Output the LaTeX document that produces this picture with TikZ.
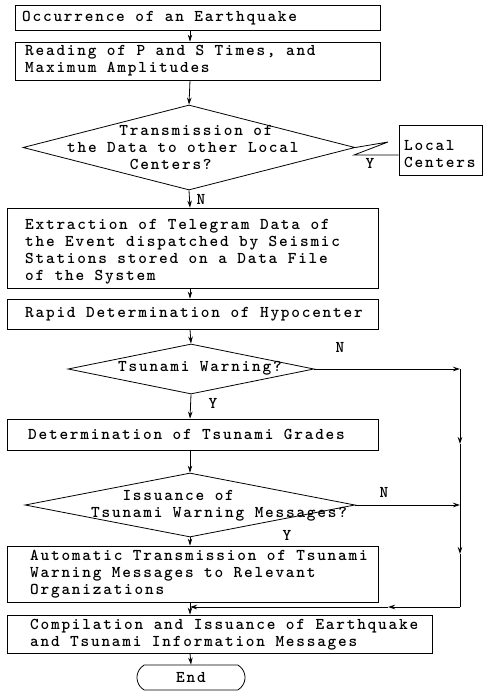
\documentclass[tikz,border=0pt]{standalone}
\usepackage{fontspec}
\usetikzlibrary{shapes.geometric,shapes.misc,arrows.meta}
\newfontfamily\twfam{lmmonolt10-bold.otf}[LetterSpace=10.8]
\newlength\chw \setlength\chw{10.45pt}
\newcommand\tw{\twfam\fontsize{16.5}{17}\selectfont}
\begin{document}
\begin{tikzpicture}[x=1pt,y=-1pt,
  box/.style={draw,line width=0.8pt,rectangle,inner sep=0pt,anchor=center},
  dia/.style={draw,line width=0.8pt,diamond,inner sep=0pt},
  lbl/.style={font=\tw,inner sep=0pt,anchor=west,align=left},
  yn/.style={font=\tw,inner sep=0pt},
  arr/.style={line width=0.8pt,-{Stealth[length=7pt,width=4.5pt]}},
  ln/.style={line width=0.8pt}]
\useasboundingbox (0,0) rectangle (484,692);
\fill[white] (0,0) rectangle (484,692);
\coordinate (ax) at (190,0);
\coordinate (rx) at (460,0);
% boxes
\node[box,minimum width=365,minimum height=25] (b1) at (197.5,17.5) {};
\node[box,minimum width=365,minimum height=38] (b2) at (197.5,61) {};
\node[dia,minimum width=332,minimum height=85] (d1) at (189,147.5) {};
\node[box,minimum width=83,minimum height=50] (lc) at (440.5,150) {};
\node[box,minimum width=371,minimum height=80] (b3) at (192.5,248) {};
\node[box,minimum width=371,minimum height=30] (b4) at (192.5,314) {};
\node[dia,minimum width=246,minimum height=50] (d2) at (191,369) {};
\node[box,minimum width=371,minimum height=31] (b5) at (192.5,434.5) {};
\node[dia,minimum width=330,minimum height=64] (d3) at (190,505) {};
\node[box,minimum width=371,minimum height=56] (b6) at (192.5,574) {};
\node[box,minimum width=425,minimum height=38] (b7) at (219.5,634) {};
\node[draw,line width=0.8pt,rounded rectangle,rounded rectangle arc length=120,
  minimum width=108,minimum height=25,font=\tw,inner sep=0pt] (end) at (191,677.5) {End};
% texts
\node[lbl] (t1) at (22,18) {Occurrence of an Earthquake};
\node[lbl] (t2) at (25,61) {Reading of P and S Times, and\\Maximum Amplitudes};
\node[lbl] (td1) at (67,148) {\hspace*{5\chw}Transmission of\\the Data to other Local\\\hspace*{6\chw}Centers?};
\node[lbl] (tlc) at (404,154) {Local\\Centers};
\node[lbl] (t3) at (25,251.5) {Extraction of Telegram Data of\\the Event dispatched by Seismic\\Stations stored on a Data File\\of the System};
\node[lbl] (t4) at (25,314) {Rapid Determination of Hypocenter};
\node[lbl] (td2) at (118,368) {Tsunami Warning?};
\node[lbl] (t5) at (28,434.5) {Determination of Tsunami Grades};
\node[lbl] (td3) at (91,505.5) {\hspace*{3\chw}Issuance of\\Tsunami Warning Messages?};
\node[lbl] (t6) at (30,574) {Automatic Transmission of Tsunami\\Warning Messages to Relevant\\Organizations};
\node[lbl] (t7) at (30,635) {Compilation and Issuance of Earthquake\\and Tsunami Information Messages};
% Y/N labels
\node[yn] (n1) at (201,199) {N};
\node[yn] (y1) at (370,163) {Y};
\node[yn] (n2) at (340,347) {N};
\node[yn] (y2) at (213,403) {Y};
\node[yn] (n3) at (384,492) {N};
\node[yn] (y3) at (287,535) {Y};
% main flow
\draw[arr] (b1.south -| ax) -- (b2.north -| ax);
\draw[arr] (b2.south -| ax) -- (d1.north);
\draw[arr] (d1.south) -- (b3.north -| ax);
\draw[arr] (b3.south -| ax) -- (b4.north -| ax);
\draw[arr] (b4.south -| ax) -- (d2.north);
\draw[arr] (d2.south) -- (b5.north -| ax);
\draw[arr] (b5.south -| ax) -- (d3.north);
\draw[arr] (d3.south) -- (b6.north -| ax);
\draw[arr] (b7.south -| ax) -- (end.north);
% zigzag to local centers
\coordinate (z1) at (388,142);
\coordinate (z2) at (354,155);
\draw[ln] (d1.east) -- (z1) -- (z2) -- (z2 -| lc.west);
% feedback
\coordinate (m1) at (460,444);
\coordinate (m2) at (460,554);
\coordinate (j1) at (460,607);
\coordinate (m3) at (388,607);
\coordinate (j2) at (190,607);
\draw[arr] (d2.east) -- (d2.east -| rx);
\draw[arr] (d2.east -| rx) -- (m1);
\draw[ln] (m1) -- (d3.east -| rx);
\draw[arr] (d3.east) -- (d3.east -| rx);
\draw[arr] (d3.east -| rx) -- (m2);
\draw[ln] (m2) -- (j1);
\draw[arr] (j1) -- (m3);
\draw[arr] (m3) -- (j2);
\draw[ln] (b6.south -| ax) -- (j2);
\draw[arr] (j2) -- (b7.north -| ax);
\end{tikzpicture}
\end{document}
